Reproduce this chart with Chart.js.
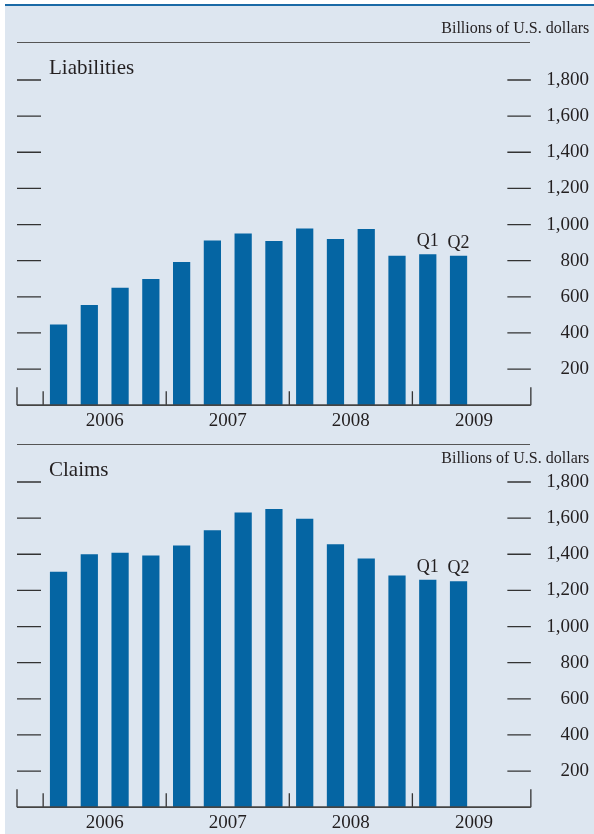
<!DOCTYPE html>
<html>
<head>
<meta charset="utf-8">
<script src="https://cdn.jsdelivr.net/npm/chart.js@4.4.1/dist/chart.umd.min.js"></script>
<style>
  html, body { margin: 0; padding: 0; }
  body { width: 594px; height: 834px; overflow: hidden; background: #fff; position: relative;
         font-family: 'Liberation Serif', 'Times New Roman', serif; color: #231f20; }
  #frame { position: absolute; left: 5px; top: 4px; width: 589px; height: 830px;
           background: #dde6f0; border-top: 2.7px solid #1a6aa6; }
  .panel { position: absolute; left: 0; width: 594px; height: 441px; }
  .panel canvas { position: absolute; left: 0; top: 0; }
  .units { position: absolute; right: 4.7px; font-size: 16px; line-height: 16px; white-space: nowrap; }
  .rule { position: absolute; left: 17px; width: 513px; height: 1.3px; top: 41.7px; background: #555; }
  .title { position: absolute; left: 49px; top: 56px; font-size: 21px; line-height: 22px; }
</style>
</head>
<body>
<div id="frame"></div>

<div class="panel" style="top:0px">
  <canvas id="chLiab" width="594" height="441"></canvas>
  <div class="units" style="top:20px">Billions of U.S. dollars</div>
  <div class="rule"></div>
  <div class="title">Liabilities</div>
</div>

<div class="panel" style="top:402px">
  <canvas id="chClaims" width="594" height="441"></canvas>
  <div class="rule"></div>
  <div class="units" style="top:48px">Billions of U.S. dollars</div>
  <div class="title">Claims</div>
</div>

<script>
"use strict";

const years = ['2006', '2007', '2008', '2009'];
const quarters = ['2006Q1','2006Q2','2006Q3','2006Q4','2007Q1','2007Q2','2007Q3','2007Q4',
                  '2008Q1','2008Q2','2008Q3','2008Q4','2009Q1','2009Q2'];
const quarterMarks = ['','','','','','','','','','','','','Q1','Q2'];
const liabilities = [446, 554, 650, 698, 792, 912, 951, 909, 978, 920, 975, 827, 836, 827];
const claims = [1303, 1400, 1408, 1393, 1449, 1533, 1631, 1651, 1596, 1456, 1377, 1283, 1259, 1250];
const yMax = 1800;
const yStep = 200;

const serif = "'Liberation Serif', 'Times New Roman', serif";
const textColor = '#231f20';
const barColor = '#0565a3';

// short ticks at both edges, baseline and year separators
const axisMarks = {
  id: 'axisMarks',
  afterDraw(chart) {
    const ctx = chart.ctx;
    const a = chart.chartArea;
    const x = chart.scales.x, y = chart.scales.y;
    const base = y.getPixelForValue(0);
    ctx.save();
    ctx.strokeStyle = '#333';
    ctx.lineWidth = 1.3;
    y.ticks.forEach(t => {
      if (t.value === 0) return;
      const py = y.getPixelForValue(t.value);
      ctx.beginPath();
      ctx.moveTo(a.left, py); ctx.lineTo(a.left + 24, py);
      ctx.moveTo(a.right - 23.5, py); ctx.lineTo(a.right, py);
      ctx.stroke();
    });
    ctx.beginPath();
    [a.left, a.right].forEach(px => { ctx.moveTo(px, base - 18); ctx.lineTo(px, base); });
    years.forEach((yr, i) => {
      const px = x.getPixelForValue(i * 4);
      ctx.moveTo(px, base - 14); ctx.lineTo(px, base);
    });
    ctx.stroke();
    ctx.strokeStyle = '#444';
    ctx.lineWidth = 1.8;
    ctx.beginPath();
    ctx.moveTo(a.left, base); ctx.lineTo(a.right, base);
    ctx.stroke();
    ctx.restore();
  }
};

// Q1 / Q2 above the last bars
const quarterLabels = {
  id: 'quarterLabels',
  afterDatasetsDraw(chart) {
    const ctx = chart.ctx;
    const meta = chart.getDatasetMeta(0);
    ctx.save();
    ctx.font = '18px ' + serif;
    ctx.fillStyle = textColor;
    ctx.textAlign = 'center';
    ctx.textBaseline = 'alphabetic';
    meta.data.forEach((bar, i) => {
      if (quarterMarks[i]) ctx.fillText(quarterMarks[i], bar.x, bar.y - 8);
    });
    ctx.restore();
  }
};

function makeChart(id, values) {
  const el = document.getElementById(id);
  return new Chart(el, {
    type: 'bar',
    data: {
      labels: quarters,
      datasets: [{
        data: values.map((v, i) => ({ x: i + 0.5, y: v })),
        backgroundColor: barColor,
        borderWidth: 0,
        barPercentage: 0.56,
        categoryPercentage: 1
      }]
    },
    options: {
      responsive: false,
      devicePixelRatio: 1,
      animation: false,
      layout: { padding: { left: 17, right: 5, top: 80, bottom: 5 } },
      plugins: { legend: { display: false }, tooltip: { enabled: false } },
      scales: {
        x: {
          type: 'linear',
          offset: false,
          min: -0.85,
          max: 15.85,
          grid: { display: false, drawTicks: false, offset: false },
          border: { display: false },
          afterBuildTicks: s => { s.ticks = years.map((yr, i) => ({ value: i * 4 + 2 })); },
          afterFit: s => { s.paddingLeft = 0; s.paddingRight = 0; },
          ticks: {
            autoSkip: false, maxRotation: 0, padding: 4,
            font: { family: serif, size: 19 }, color: textColor,
            callback: (v, i) => years[i]
          }
        },
        y: {
          position: 'right',
          min: 0,
          max: yMax,
          grid: { display: false, drawTicks: false },
          border: { display: false },
          afterFit: s => { s.paddingTop = 0; s.paddingBottom = 0; },
          ticks: {
            stepSize: yStep, padding: 7.7, crossAlign: 'far',
            font: { family: serif, size: 19 }, color: textColor,
            callback: v => v === 0 ? '' : v.toLocaleString('en-US')
          }
        }
      }
    },
    plugins: [axisMarks, quarterLabels]
  });
}

makeChart('chLiab', liabilities);
makeChart('chClaims', claims);
</script>
</body>
</html>
